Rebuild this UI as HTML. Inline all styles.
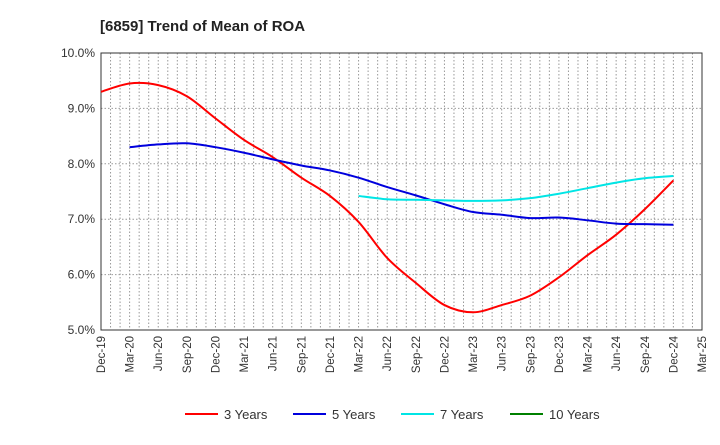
<!DOCTYPE html>
<html><head><meta charset="utf-8"><style>
body{margin:0;background:#fff;font-family:"Liberation Sans",Arial,sans-serif}
svg text{font-family:"Liberation Sans",Arial,sans-serif}
</style></head><body>
<svg id="c" width="720" height="440" xmlns="http://www.w3.org/2000/svg">
<text x="100" y="31" font-size="15" font-weight="bold" fill="#222">[6859]  Trend of Mean of ROA</text>
<g id="grid"></g><g id="axes"></g><g id="series"></g><g id="legend"></g>
</svg>
<script>
const xLabels=["Dec-19","Mar-20","Jun-20","Sep-20","Dec-20","Mar-21","Jun-21","Sep-21","Dec-21","Mar-22","Jun-22","Sep-22","Dec-22","Mar-23","Jun-23","Sep-23","Dec-23","Mar-24","Jun-24","Sep-24","Dec-24","Mar-25"];
const yTicks=[5,6,7,8,9,10];
const s3=[9.30,9.45,9.42,9.22,8.82,8.43,8.12,7.75,7.42,6.95,6.30,5.85,5.45,5.32,5.45,5.62,5.95,6.35,6.72,7.18,7.70];
const s3Start=0;
const s5=[8.30,8.35,8.37,8.30,8.20,8.08,7.97,7.88,7.75,7.58,7.43,7.27,7.13,7.08,7.02,7.03,6.98,6.92,6.91,6.90];
const s5Start=1;
const s7=[7.42,7.36,7.35,7.34,7.33,7.34,7.38,7.46,7.56,7.66,7.74,7.78];
const s7Start=9;
const s10=[];
const s10Start=0;
const L=101,R=702,T=53,B=330;
const xq=i=>L+(R-L)*i/21;
const y=v=>B-(v-5)/5*(B-T);
const NS="http://www.w3.org/2000/svg";
function mk(t,a,p){const e=document.createElementNS(NS,t);for(const k in a)e.setAttribute(k,a[k]);p.appendChild(e);return e;}
const grid=document.getElementById('grid'),axes=document.getElementById('axes'),ser=document.getElementById('series'),leg=document.getElementById('legend');
for(let m=1;m<63;m++){const gx=L+(R-L)*m/63;const l=mk('line',{x1:gx,x2:gx,y1:T,y2:B,stroke:'#999','stroke-dasharray':'1.5,2','stroke-width':1},grid);

}
yTicks.forEach(v=>{if(v>5&&v<10){const l=mk('line',{x1:L,x2:R,y1:y(v),y2:y(v),stroke:'#999','stroke-dasharray':'1.5,2'},grid);

}
const t=mk('text',{x:L-6,y:y(v)+4,'font-size':12,'text-anchor':'end',fill:'#333'},axes);t.textContent=v.toFixed(1)+'%';

});
const fr=mk('rect',{x:L,y:T,width:R-L,height:B-T,fill:'none',stroke:'#333','stroke-width':1},axes);


xLabels.forEach((s,i)=>{const gx=xq(i);const t=mk('text',{transform:`translate(${gx+4},${B+6}) rotate(-90)`,'font-size':11.5,'text-anchor':'end',fill:'#333'},axes);t.textContent=s;

});
function path(arr,st){const p=arr.map((v,i)=>[xq(i+st),y(v)]);if(!p.length)return '';let d=`M${p[0][0]},${p[0][1]}`;
for(let i=0;i<p.length-1;i++){const p0=p[i-1]||p[i],p1=p[i],p2=p[i+1],p3=p[i+2]||p2;
d+=` C${p1[0]+(p2[0]-p0[0])/6},${p1[1]+(p2[1]-p0[1])/6} ${p2[0]-(p3[0]-p1[0])/6},${p2[1]-(p3[1]-p1[1])/6} ${p2[0]},${p2[1]}`;}return d;}
const series=[[s3,s3Start,'#ff0000','3 Years','series-3-years'],[s5,s5Start,'#0000dd','5 Years','series-5-years'],[s7,s7Start,'#00e5e5','7 Years','series-7-years'],[s10,s10Start,'#008000','10 Years','series-10-years']];
series.forEach(([a,st,c,n,dn],k)=>{if(a.length){const p=mk('path',{d:path(a,st),fill:'none',stroke:c,'stroke-width':2},ser);

}
const lx=[185,293,401,510][k];
const g=mk('g',{},leg);


mk('line',{x1:lx,x2:lx+33,y1:414,y2:414,stroke:c,'stroke-width':2},g);
const t=mk('text',{x:lx+39,y:419,'font-size':13,fill:'#333'},g);t.textContent=n;});
</script>
</body></html>
